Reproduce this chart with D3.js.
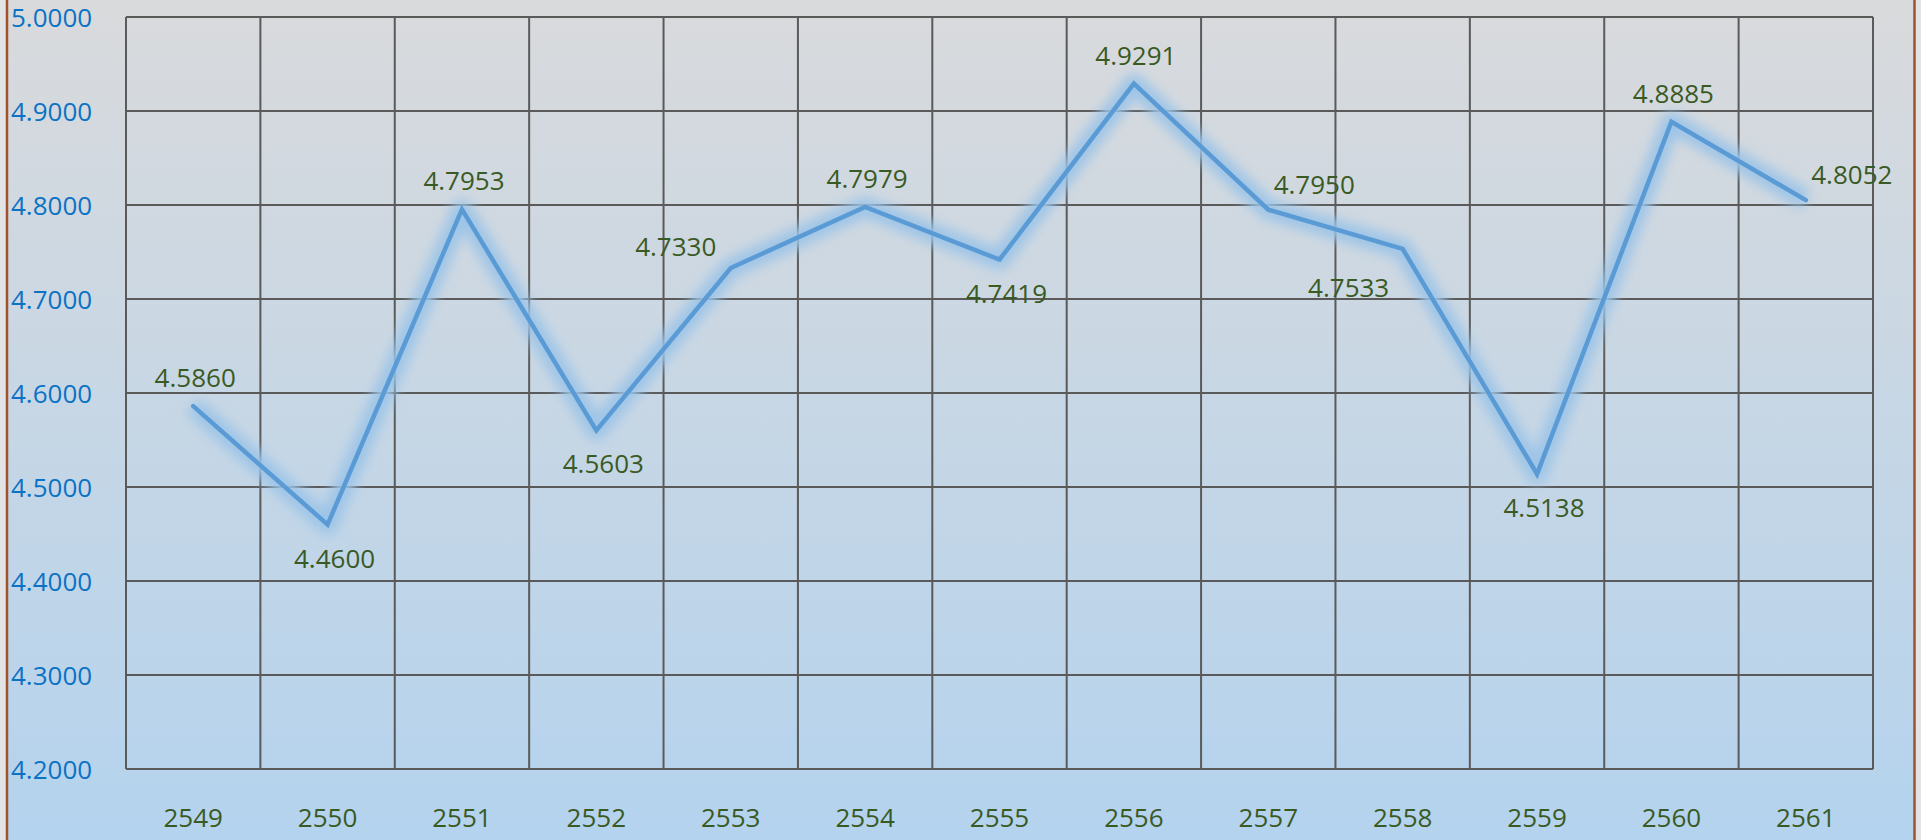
<!DOCTYPE html>
<html>
<head>
<meta charset="utf-8">
<script src="https://cdn.jsdelivr.net/npm/d3@7"></script>
<style>
  html, body { margin: 0; padding: 0; background: #e2e3e5; }
  svg { display: block; }
  text { font-family: "Lucida Grande", "Open Sans", sans-serif; }
</style>
</head>
<body>
<div id="chart"></div>
<script>
const years = ["2549", "2550", "2551", "2552", "2553", "2554", "2555", "2556", "2557", "2558", "2559", "2560", "2561"];
const values = [4.5860, 4.4600, 4.7953, 4.5603, 4.7330, 4.7979, 4.7419, 4.9291, 4.7950, 4.7533, 4.5138, 4.8885, 4.8052];
const yTicks = [4.2, 4.3, 4.4, 4.5, 4.6, 4.7, 4.8, 4.9, 5.0];
// where each data label sits relative to its point
const labelPlacement = ["t", "b", "t", "b", "tl", "t", "b", "t", "tr", "bl", "b", "t", "tr"];

const W = 1921, H = 840;
const plot = { left: 126, right: 1873, top: 17, bottom: 769 };
const offsets = {
  t: [2, -29], b: [7, 33], tl: [-55, -22], tr: [46, -26], bl: [-54, 38]
};

const svg = d3.select("#chart").append("svg")
  .attr("width", W).attr("height", H);

const defs = svg.append("defs");
const grad = defs.append("linearGradient")
  .attr("id", "bg").attr("x1", 0).attr("y1", 0).attr("x2", 0).attr("y2", 1);
grad.append("stop").attr("offset", "0%").attr("stop-color", "#d9dadc");
grad.append("stop").attr("offset", "100%").attr("stop-color", "#b4d3ee");

const glow = defs.append("filter").attr("id", "glow")
  .attr("x", "-10%").attr("y", "-20%").attr("width", "120%").attr("height", "140%");
glow.append("feGaussianBlur").attr("stdDeviation", 6);

svg.append("rect").attr("x", 7).attr("y", 0)
  .attr("width", 1908).attr("height", H).attr("fill", "url(#bg)");

// side frame
svg.append("line").attr("x1", 7).attr("x2", 7).attr("y1", 0).attr("y2", H)
  .attr("stroke", "#a0522d").attr("stroke-width", 2.5);
svg.append("line").attr("x1", 1914.5).attr("x2", 1914.5).attr("y1", 0).attr("y2", H)
  .attr("stroke", "#a0522d").attr("stroke-width", 2.5);

const x = d3.scaleBand().domain(years).range([plot.left, plot.right]);
const y = d3.scaleLinear().domain([4.2, 5.0]).range([plot.bottom, plot.top]);

// grid
const grid = svg.append("g").attr("stroke", "#5a5a5a").attr("stroke-width", 2);
grid.selectAll("line.h").data(yTicks).enter().append("line")
  .attr("x1", plot.left).attr("x2", plot.right)
  .attr("y1", (d) => y(d)).attr("y2", (d) => y(d));
grid.selectAll("line.v").data(years.concat(["end"])).enter().append("line")
  .attr("x1", (d) => (d === "end" ? plot.right : x(d)))
  .attr("x2", (d) => (d === "end" ? plot.right : x(d)))
  .attr("y1", plot.top).attr("y2", plot.bottom);

// y axis labels
svg.append("g").selectAll("text").data(yTicks).enter().append("text")
  .attr("x", 11).attr("y", (d) => y(d))
  .attr("dominant-baseline", "central")
  .attr("font-size", 26).attr("fill", "#0b72c4")
  .text(d3.format(".4f"));

// x axis labels
svg.append("g").selectAll("text").data(years).enter().append("text")
  .attr("x", (d) => x(d) + x.bandwidth() / 2).attr("y", 817)
  .attr("dominant-baseline", "central").attr("text-anchor", "middle")
  .attr("font-size", 26).attr("fill", "#3a5a24")
  .text((d) => d);

const data = years.map((yr, i) => ({ year: yr, value: values[i], pos: labelPlacement[i] }));
const line = d3.line()
  .x((d) => x(d.year) + x.bandwidth() / 2)
  .y((d) => y(d.value));

svg.append("path").datum(data)
  .attr("fill", "none").attr("stroke", "#9cc4e8").attr("stroke-opacity", 0.95)
  .attr("stroke-width", 20).attr("stroke-linejoin", "round")
  .attr("filter", "url(#glow)").attr("d", line);

svg.append("path").datum(data)
  .attr("fill", "none").attr("stroke", "#5b9bd5")
  .attr("stroke-width", 4.5).attr("stroke-linejoin", "miter")
  .attr("stroke-linecap", "round").attr("d", line);

// data labels
svg.append("g").selectAll("text").data(data).enter().append("text")
  .attr("x", (d) => x(d.year) + x.bandwidth() / 2 + offsets[d.pos][0])
  .attr("y", (d) => y(d.value) + offsets[d.pos][1])
  .attr("dominant-baseline", "central").attr("text-anchor", "middle")
  .attr("font-size", 26).attr("fill", "#3a5a24")
  .text((d) => d3.format(".4f")(d.value));
</script>
</body>
</html>
